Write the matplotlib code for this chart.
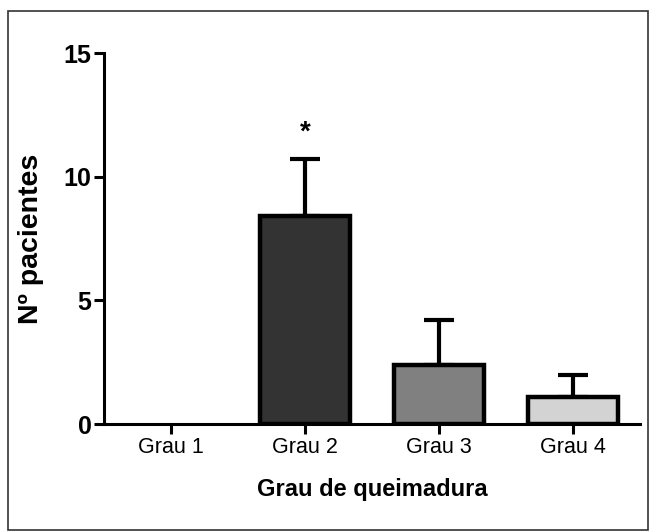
import numpy as np
import matplotlib.pyplot as plt
from matplotlib.patches import Rectangle

plt.rcParams['font.family'] = ['Liberation Sans', 'DejaVu Sans']

categories = ['Grau 1', 'Grau 2', 'Grau 3', 'Grau 4']
means = [0, 8.4, 2.4, 1.1]
errs = [0, 2.3, 1.8, 0.9]
colors = ['white', '#333333', '#808080', '#d3d3d3']

fig = plt.figure(figsize=(6.5, 5.32), dpi=100)
ax = fig.add_axes([0.16, 0.203, 0.825, 0.697])

x = np.arange(len(categories))
for i in range(len(categories)):
    if means[i] <= 0:
        continue
    ax.errorbar(x[i], means[i], yerr=[[0], [errs[i]]], fmt='none', ecolor='black',
                elinewidth=3, capsize=11, capthick=3, zorder=1)
    ax.bar(x[i], means[i], width=0.67, color=colors[i], edgecolor='black',
           linewidth=3.2, zorder=2)

ax.text(x[1], means[1] + errs[1] + 0.55, '*', ha='center', va='bottom',
        fontsize=20, fontweight='bold')

ax.set_xlim(-0.5, 3.5)
ax.set_ylim(0, 15)
ax.set_yticks([0, 5, 10, 15])
ax.set_xticks(x)
ax.set_xticklabels(categories, fontsize=15.5)
for lab in ax.get_yticklabels():
    lab.set_fontweight('bold')
    lab.set_fontsize(18)
ax.spines['top'].set_visible(False)
ax.spines['right'].set_visible(False)
ax.spines['left'].set_linewidth(2.2)
ax.spines['bottom'].set_linewidth(2.2)
ax.tick_params(width=2.2, length=7, pad=2)
ax.set_ylabel('Nº pacientes', fontsize=20.5, fontweight='bold', labelpad=14)
ax.set_xlabel('Grau de queimadura', fontsize=17, fontweight='bold', labelpad=15)

fig.patches.append(Rectangle((0.012, 0.004), 0.985, 0.975, transform=fig.transFigure,
                             fill=False, edgecolor='#333333', linewidth=1.2))

fig.savefig('out.png', dpi=100)
